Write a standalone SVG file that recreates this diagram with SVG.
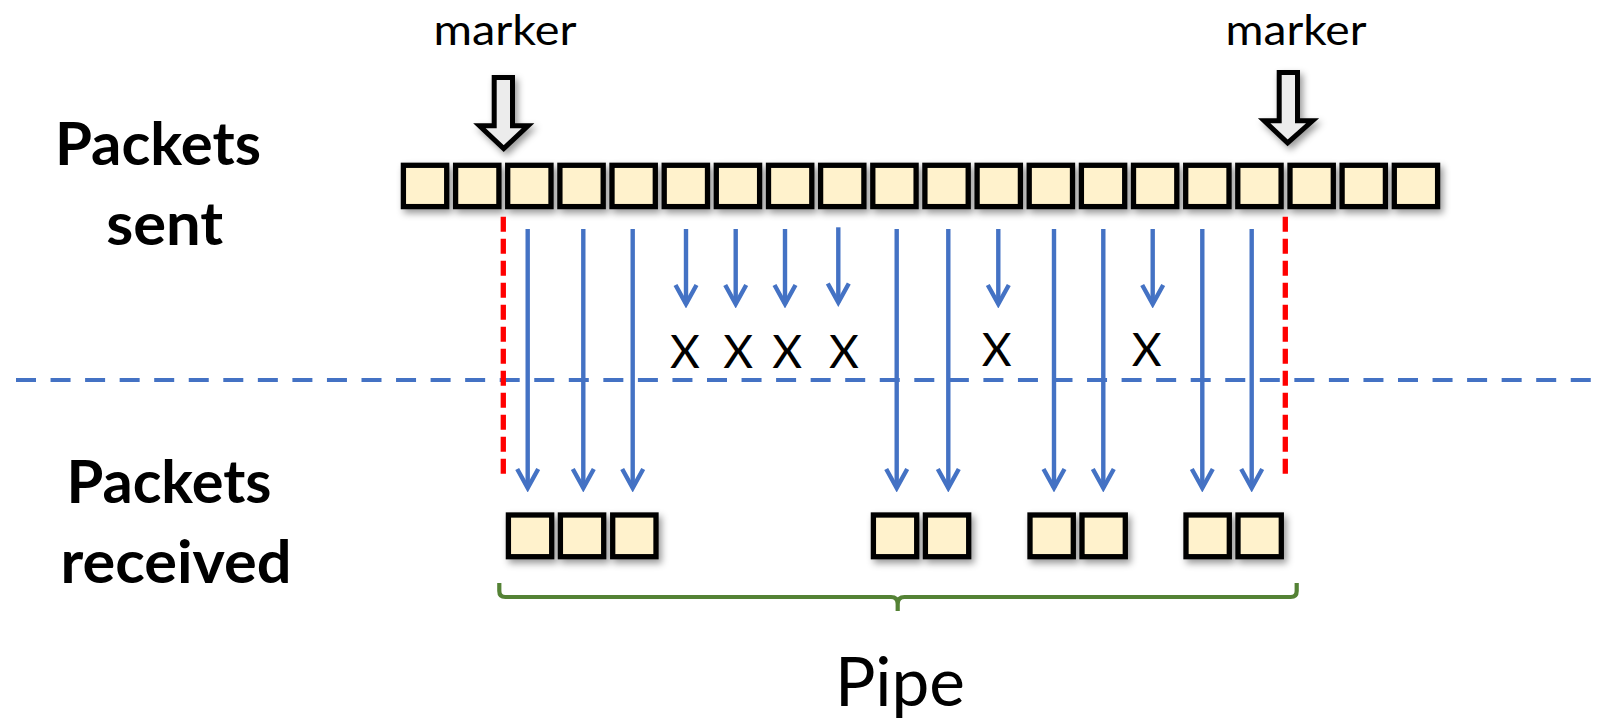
<svg xmlns="http://www.w3.org/2000/svg" width="1597" height="719" viewBox="0 0 1597 719">
<style>
.box{fill:#fff2cc;stroke:#000;stroke-width:5.3}
.lbl{font-family:Lato,"Open Sans","Liberation Sans",sans-serif;fill:#000}
.bold{font-weight:bold;font-size:60px}
.mk{font-size:43px}
.x{font-size:46px}
.pipe{font-size:67px}
.flow{stroke:#4472c4;stroke-width:4.4;fill:none;marker-end:url(#ah)}
.red{stroke:#ff0000;stroke-width:5.3;stroke-dasharray:15 7;fill:none}
.marker-arrow{fill:#ececec;stroke:#000;stroke-width:5;stroke-linejoin:miter}
</style>
<defs>
<filter id="sh" x="-20%" y="-20%" width="150%" height="160%">
<feDropShadow dx="3" dy="4" stdDeviation="3.5" flood-color="#000" flood-opacity="0.4"/>
</filter>
<marker id="ah" markerUnits="userSpaceOnUse" markerWidth="30" markerHeight="30" viewBox="-26 -15 30 30" refX="0" refY="0" orient="auto">
<path d="M-19,-10.5 L0,0 L-19,10.5" fill="none" stroke="#4472c4" stroke-width="4.4" stroke-linejoin="miter"/>
</marker>
</defs>
<rect x="0" y="0" width="1597" height="719" fill="#fff"/>

<g id="labels">
<text class="lbl bold" x="158" y="165" text-anchor="middle" textLength="206" lengthAdjust="spacingAndGlyphs">Packets</text>
<text class="lbl bold" x="164.7" y="245" text-anchor="middle" textLength="117" lengthAdjust="spacingAndGlyphs">sent</text>
<text class="lbl bold" x="169" y="503.3" text-anchor="middle" textLength="205" lengthAdjust="spacingAndGlyphs">Packets</text>
<text class="lbl bold" x="176" y="583.3" text-anchor="middle" textLength="231" lengthAdjust="spacingAndGlyphs">received</text>
<text class="lbl mk" x="505" y="45" text-anchor="middle" textLength="143" lengthAdjust="spacingAndGlyphs">marker</text>
<text class="lbl mk" x="1296" y="45" text-anchor="middle" textLength="141" lengthAdjust="spacingAndGlyphs">marker</text>
<text class="lbl pipe" x="900" y="706" text-anchor="middle" textLength="130" lengthAdjust="spacingAndGlyphs">Pipe</text>
</g>

<g id="divider">
<line x1="16" y1="380" x2="1597" y2="380" stroke="#4472c4" stroke-width="4.2" stroke-dasharray="20 14.55"/>
</g>

<g id="markers" filter="url(#sh)">
<g id="marker-left"><path class="marker-arrow" d="M494.2,77.5 L512.5,77.5 L512.5,125.8 L528,125.8 L503.7,148.5 L479.5,125.8 L494.2,125.8 Z"/></g>
<g id="marker-right"><path class="marker-arrow" d="M1279.2,72.5 L1297.5,72.5 L1297.5,120.8 L1312.5,120.8 L1287.6,142.8 L1264.2,120.8 L1279.2,120.8 Z"/></g>
</g>

<g id="sent" filter="url(#sh)">
<g id="s0"><rect class="box" x="403.4" y="165.3" width="43.3" height="41.3"/></g>
<g id="s1"><rect class="box" x="455.6" y="165.3" width="43.3" height="41.3"/></g>
<g id="s2"><rect class="box" x="507.7" y="165.3" width="43.3" height="41.3"/></g>
<g id="s3"><rect class="box" x="559.9" y="165.3" width="43.3" height="41.3"/></g>
<g id="s4"><rect class="box" x="612.0" y="165.3" width="43.3" height="41.3"/></g>
<g id="s5"><rect class="box" x="664.2" y="165.3" width="43.3" height="41.3"/></g>
<g id="s6"><rect class="box" x="716.3" y="165.3" width="43.3" height="41.3"/></g>
<g id="s7"><rect class="box" x="768.5" y="165.3" width="43.3" height="41.3"/></g>
<g id="s8"><rect class="box" x="820.6" y="165.3" width="43.3" height="41.3"/></g>
<g id="s9"><rect class="box" x="872.8" y="165.3" width="43.3" height="41.3"/></g>
<g id="s10"><rect class="box" x="924.9" y="165.3" width="43.3" height="41.3"/></g>
<g id="s11"><rect class="box" x="977.1" y="165.3" width="43.3" height="41.3"/></g>
<g id="s12"><rect class="box" x="1029.2" y="165.3" width="43.3" height="41.3"/></g>
<g id="s13"><rect class="box" x="1081.4" y="165.3" width="43.3" height="41.3"/></g>
<g id="s14"><rect class="box" x="1133.5" y="165.3" width="43.3" height="41.3"/></g>
<g id="s15"><rect class="box" x="1185.7" y="165.3" width="43.3" height="41.3"/></g>
<g id="s16"><rect class="box" x="1237.8" y="165.3" width="43.3" height="41.3"/></g>
<g id="s17"><rect class="box" x="1290.0" y="165.3" width="43.3" height="41.3"/></g>
<g id="s18"><rect class="box" x="1342.1" y="165.3" width="43.3" height="41.3"/></g>
<g id="s19"><rect class="box" x="1394.3" y="165.3" width="43.3" height="41.3"/></g>
</g>

<g id="received" filter="url(#sh)">
<g id="r0"><rect class="box" x="508.4" y="515" width="43.3" height="41.7"/></g>
<g id="r1"><rect class="box" x="560.4" y="515" width="43.3" height="41.7"/></g>
<g id="r2"><rect class="box" x="612.7" y="515" width="43.3" height="41.7"/></g>
<g id="r3"><rect class="box" x="873.4" y="515" width="43.3" height="41.7"/></g>
<g id="r4"><rect class="box" x="925.4" y="515" width="43.3" height="41.7"/></g>
<g id="r5"><rect class="box" x="1030.0" y="515" width="43.3" height="41.7"/></g>
<g id="r6"><rect class="box" x="1082.0" y="515" width="43.3" height="41.7"/></g>
<g id="r7"><rect class="box" x="1186.0" y="515" width="43.3" height="41.7"/></g>
<g id="r8"><rect class="box" x="1238.0" y="515" width="43.3" height="41.7"/></g>
</g>

<g id="window-bounds">
<line class="red" x1="503.3" y1="216.7" x2="503.3" y2="480"/>
<line class="red" x1="1285.3" y1="216.7" x2="1285.3" y2="480"/>
</g>

<g id="connectors">
<line class="flow" x1="527.7" y1="229" x2="527.7" y2="488"/>
<line class="flow" x1="583.3" y1="229" x2="583.3" y2="488"/>
<line class="flow" x1="632.7" y1="229" x2="632.7" y2="488"/>
<line class="flow" x1="686" y1="229" x2="686" y2="304"/>
<line class="flow" x1="735.7" y1="229" x2="735.7" y2="304"/>
<line class="flow" x1="785" y1="229" x2="785" y2="304"/>
<line class="flow" x1="838.3" y1="227.3" x2="838.3" y2="302.5"/>
<line class="flow" x1="896.7" y1="229" x2="896.7" y2="488"/>
<line class="flow" x1="948.3" y1="229" x2="948.3" y2="488"/>
<line class="flow" x1="998.3" y1="229" x2="998.3" y2="304"/>
<line class="flow" x1="1054" y1="229" x2="1054" y2="488"/>
<line class="flow" x1="1103.3" y1="229" x2="1103.3" y2="488"/>
<line class="flow" x1="1152.7" y1="229" x2="1152.7" y2="304"/>
<line class="flow" x1="1202.3" y1="229" x2="1202.3" y2="488"/>
<line class="flow" x1="1251.7" y1="229" x2="1251.7" y2="488"/>
</g>

<g id="losses">
<text class="lbl x" x="685" y="368.3" text-anchor="middle">X</text>
<text class="lbl x" x="738.3" y="368.3" text-anchor="middle">X</text>
<text class="lbl x" x="787.3" y="368.3" text-anchor="middle">X</text>
<text class="lbl x" x="844" y="368.3" text-anchor="middle">X</text>
<text class="lbl x" x="996.7" y="365.7" text-anchor="middle">X</text>
<text class="lbl x" x="1146.7" y="365.7" text-anchor="middle">X</text>
</g>

<g id="pipe-brace">
<path d="M499.3,583 L499.3,591 Q499.3,597 505.3,597 L891,597 Q897.7,597 897.7,604 L897.7,611 L897.7,604 Q897.7,597 904.5,597 L1290.7,597 Q1296.7,597 1296.7,591 L1296.7,583" fill="none" stroke="#548235" stroke-width="4.2"/>
</g>
</svg>
